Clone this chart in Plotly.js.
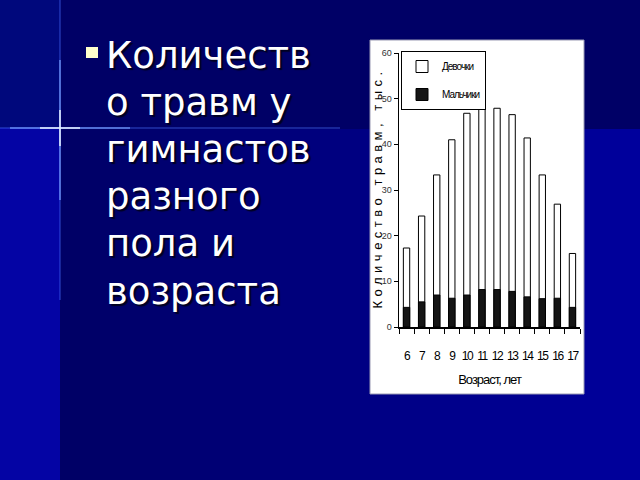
<!DOCTYPE html>
<html>
<head>
<meta charset="utf-8">
<script src="https://cdn.plot.ly/plotly-3.0.1.min.js"></script>
<style>
html,body{margin:0;padding:0;background:#000066;}
#chart{width:640px;height:480px;}
.xtitle{letter-spacing:-1px;}
.xtick text{letter-spacing:-1.5px;}
g.annotation[data-index="0"] text{letter-spacing:4.5px;}
.legendtext{letter-spacing:-1px;}
</style>
</head>
<body>
<div id="chart"></div>
<script>
// ---- data ----
const ages = ["6","7","8","9","10","11","12","13","14","15","16","17"];
const girls = [17.3, 24.3, 33.3, 41.0, 46.8, 51.0, 47.9, 46.5, 41.4, 33.3, 26.9, 16.1];
const boys  = [4.3, 5.5, 7.0, 6.3, 7.0, 8.2, 8.2, 7.8, 6.6, 6.2, 6.3, 4.3];
const seriesNames = ["Девочки", "Мальчики"];
const yTicks = [0, 10, 20, 30, 40, 50, 60];
const titleLines = ["Количеств", "о травм у", "гимнастов", "разного", "пола и", "возраста"];
const xTitle = "Возраст, лет";
const yTitle = "Количество травм, тыс.";

// ---- layout helpers (pixel -> paper) ----
const W = 640, H = 480;
const px = x => x / W;
const py = y => 1 - y / H;

const shapes = [];
function rect(x0, y0, x1, y1, color, line) {
  shapes.push({type: "rect", xref: "paper", yref: "paper", layer: "below",
    x0: px(x0), x1: px(x1), y0: py(y1), y1: py(y0),
    fillcolor: color, line: line || {width: 0}});
}
// background: top band, left strip, gradient lower area
rect(0, 0, 640, 480, "#000066");
rect(0, 0, 60, 128, "#00087c");
rect(0, 128, 60, 480, "#0404a4");
const nStrips = 29;
for (let i = 0; i < nStrips; i++) {
  const t = i / (nStrips - 1);
  const b = Math.round(0x66 + t * (0x9c - 0x66));
  const x0 = 60 + i * (580 / nStrips);
  rect(x0, 129, x0 + 580 / nStrips + 1, 480, "rgb(0,0," + b + ")");
}
// glow cross
function gline(x0, y0, x1, y1, color, w) {
  shapes.push({type: "line", xref: "paper", yref: "paper", layer: "below",
    x0: px(x0), x1: px(x1), y0: py(y0), y1: py(y1), line: {color: color, width: w}});
}
gline(60, 0, 60, 300, "rgba(70,110,255,0.45)", 1.5);
gline(0, 128, 340, 128, "rgba(70,110,255,0.45)", 1.5);
gline(60, 60, 60, 200, "rgba(120,160,255,0.8)", 1.5);
gline(10, 128, 130, 128, "rgba(120,160,255,0.8)", 1.5);
gline(60, 110, 60, 146, "rgba(230,240,255,1)", 1.5);
gline(40, 128, 80, 128, "rgba(230,240,255,1)", 1.5);
// white chart panel
rect(370, 40, 584, 394, "#ffffff", {color: "#9a9ab4", width: 1});
// bullet square
rect(86, 47, 98, 58, "#ffffcc");

const annotations = [{
  text: yTitle, xref: "paper", yref: "paper", x: px(378), y: py(188),
  xanchor: "center", yanchor: "middle", textangle: -90, showarrow: false,
  font: {family: "Liberation Sans, Arial, sans-serif", size: 13, color: "#000000"}
}].concat(titleLines.map((t, i) => ({
  text: t, xref: "paper", yref: "paper", x: px(104), y: py(55 + i * 47.2),
  xanchor: "left", yanchor: "middle", showarrow: false,
  font: {family: "DejaVu Sans", size: 37, color: "#ffffff", shadow: "2px 2px 1px #000022"}
})));

const chartFont = "'Liberation Sans Narrow', 'Arial Narrow', 'Liberation Sans', Arial, sans-serif";

const traces = [
  {type: "bar", x: ages, y: girls, name: seriesNames[0], width: 0.42, legendgroup: "g",
   marker: {color: "#ffffff", line: {color: "#000000", width: 1}}},
  {type: "bar", x: ages, y: boys, name: seriesNames[1], width: 0.42, legendgroup: "b",
   marker: {color: "#151515", line: {color: "#000000", width: 1}}}
];

const layout = {
  width: W, height: H,
  margin: {l: 0, r: 0, t: 0, b: 0},
  paper_bgcolor: "#000066",
  plot_bgcolor: "rgba(0,0,0,0)",
  barmode: "overlay",
  showlegend: true,
  legend: {x: px(401), y: py(51), xanchor: "left", yanchor: "top",
    bgcolor: "#ffffff", bordercolor: "#000000", borderwidth: 1,
    font: {family: chartFont, size: 10, color: "#000000"},
    traceorder: "grouped", tracegroupgap: 9, itemwidth: 30},
  xaxis: {domain: [px(399), px(580)], type: "category",
    tickmode: "array", tickvals: ages, ticktext: ages, tickangle: 0,
    showline: true, linecolor: "#000000", linewidth: 1.5,
    ticks: "outside", tickson: "boundaries", ticklen: 5, tickcolor: "#000000", tickwidth: 1,
    ticklabelstandoff: 17,
    tickfont: {family: chartFont, size: 12, color: "#000000"},
    showgrid: false, zeroline: false,
    title: {text: xTitle, standoff: 13, font: {family: chartFont, size: 13, color: "#000000"}}},
  yaxis: {domain: [py(327), py(53)], range: [0, 60],
    tickvals: yTicks, showline: true, linecolor: "#000000", linewidth: 1.5,
    ticks: "outside", ticklen: 4, tickcolor: "#000000",
    tickfont: {family: chartFont, size: 9, color: "#333333"},
    showgrid: false, zeroline: false},
  shapes: shapes,
  annotations: annotations
};

Plotly.newPlot("chart", traces, layout, {displayModeBar: false, staticPlot: true});
</script>
</body>
</html>
